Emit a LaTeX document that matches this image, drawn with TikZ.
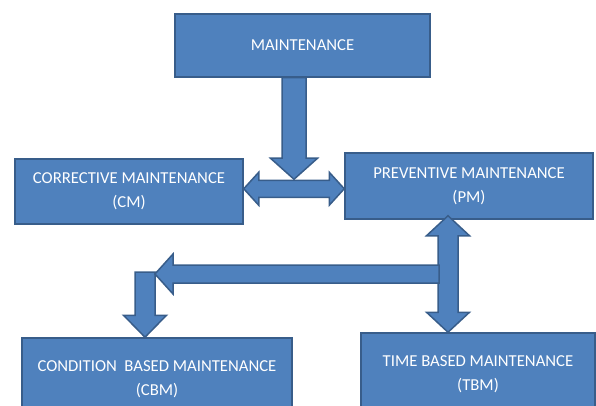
\documentclass[tikz,border=0pt]{standalone}
\usepackage{fontspec}
\setmainfont{Carlito}
\usetikzlibrary{calc}
\definecolor{boxblue}{HTML}{4F81BD}
\definecolor{boxline}{HTML}{385D8A}
\tikzset{
  box/.style={draw=boxline, fill=boxblue, line width=1.5pt, text=white,
    align=center, inner sep=0pt, font=\fontsize{16.7}{24}\selectfont},
  blockarrow/.style={draw=boxline, fill=boxblue, line width=1.5pt, line join=miter},
}

\begin{document}
\begin{tikzpicture}[x=1pt, y=-1pt]
  \useasboundingbox (0,0) rectangle (596,406);

  % boxes
  \node[box, minimum width=255pt, minimum height=63pt] (main) at (302.5,45.5) {MAINTENANCE};
  \node[box, minimum width=228pt, minimum height=65pt] (cm) at (129,191.5)
        {CORRECTIVE MAINTENANCE\\(CM)};
  \node[box, minimum width=248pt, minimum height=66pt] (pm) at (469,186)
        {PREVENTIVE MAINTENANCE\\(PM)};
  \node[box, minimum width=270pt, minimum height=82pt] (cbm) at (157,379)
        {CONDITION\ \ BASED MAINTENANCE\\(CBM)};
  \node[box, minimum width=234pt, minimum height=82pt] (tbm) at (478,374)
        {TIME BASED MAINTENANCE\\(TBM)};

  % junctions
  \coordinate (hub) at ($(cm.east)!0.5!(pm.west)$);
  \coordinate (split) at (448,274);
  \coordinate (bend) at (145,274);

  % CM <-> PM
  \draw[blockarrow] let \p1=(cm.east |- hub), \p2=(pm.west |- hub) in
    (\x1,\y1) -- (\x1+15pt,\y1+16.5pt) -- (\x1+15pt,\y1+8.5pt)
    -- (\x2-15pt,\y1+8.5pt) -- (\x2-15pt,\y1+16.5pt) -- (\x2,\y1)
    -- (\x2-15pt,\y1-16.5pt) -- (\x2-15pt,\y1-8.5pt)
    -- (\x1+15pt,\y1-8.5pt) -- (\x1+15pt,\y1-16.5pt) -- cycle;

  % MAINTENANCE -> hub
  \draw[blockarrow] let \p1=(main.south -| hub), \p2=(hub) in
    (\x1-12pt,\y1) -- (\x1-12pt,\y2+30.5pt) -- (\x1-23.5pt,\y2+30.5pt)
    -- (\x1,\y2+9.5pt) -- (\x1+23.5pt,\y2+30.5pt) -- (\x1+12pt,\y2+30.5pt)
    -- (\x1+12pt,\y1) -- cycle;

  % PM <-> TBM
  \draw[blockarrow] let \p1=(split |- pm.south), \p2=(split |- tbm.north) in
    (\x1,\y1+4pt) -- (\x1+21.5pt,\y1-16pt) -- (\x1+10pt,\y1-16pt)
    -- (\x1+10pt,\y2+20pt) -- (\x1+21.5pt,\y2+20pt) -- (\x2,\y2)
    -- (\x1-21.5pt,\y2+20pt) -- (\x1-10pt,\y2+20pt)
    -- (\x1-10pt,\y1-16pt) -- (\x1-21.5pt,\y1-16pt) -- cycle;

  % bend -> CBM
  \draw[blockarrow] let \p1=(bend), \p2=(bend |- cbm.north) in
    (\x1-10pt,\y1+2pt) -- (\x1-10pt,\y2+22pt) -- (\x1-21.5pt,\y2+22pt)
    -- (\x1,\y2) -- (\x1+21.5pt,\y2+22pt) -- (\x1+10pt,\y2+22pt)
    -- (\x1+10pt,\y1+2pt) -- cycle;

  % split -> bend
  \draw[blockarrow] let \p1=(split), \p2=(bend) in
    (\x1-9pt,\y1+9pt) -- (\x2+28pt,\y1+9pt) -- (\x2+28pt,\y1+20pt)
    -- (\x2+10pt,\y1) -- (\x2+28pt,\y1-20pt) -- (\x2+28pt,\y1-9pt)
    -- (\x1-9pt,\y1-9pt) -- cycle;
\end{tikzpicture}
\end{document}
